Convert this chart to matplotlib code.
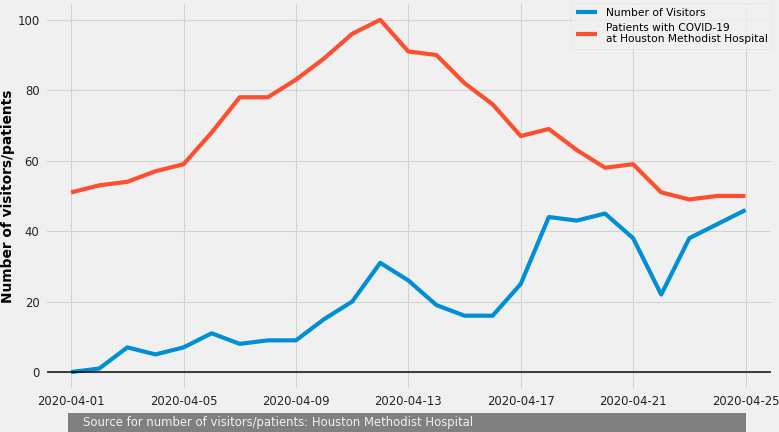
import numpy as np
import pandas as pd
import matplotlib
matplotlib.use("Agg")
import matplotlib.pyplot as plt
import matplotlib.dates as mdates
from matplotlib.patches import Rectangle

dates = pd.date_range("2020-04-01", "2020-04-25", freq="D")
visitors = [0, 1, 7, 5, 7, 11, 8, 9, 9, 15, 20, 31, 26, 19, 16, 16, 25, 44, 43, 45, 38, 22, 38, 42, 46]
patients = [51, 53, 54, 57, 59, 68, 78, 78, 83, 89, 96, 100, 91, 90, 82, 76, 67, 69, 63, 58, 59, 51, 49, 50, 50]
yticks = [0, 20, 40, 60, 80, 100]
source = "Source for number of visitors/patients: Houston Methodist Hospital"

plt.style.use("fivethirtyeight")
plt.rcParams["font.family"] = "DejaVu Sans"
fig = plt.figure(figsize=(7.79, 4.32), dpi=100)
ax = fig.add_axes([0.0578, 0.098, 0.9342, 0.897])

ax.plot(dates, visitors, color="#008fd5", linewidth=3, label="Number of Visitors")
ax.plot(dates, patients, color="#fc4f30", linewidth=3,
        label="Patients with COVID-19\nat Houston Methodist Hospital")
ax.axhline(0, color="black", linewidth=1.3, alpha=0.8)

ax.set_ylim(-5, 105)
ax.set_yticks(yticks)
x0 = mdates.date2num(dates[0])
ax.set_xlim(x0 - 0.93, x0 + 24.97)
ax.xaxis.set_major_locator(mdates.DayLocator(bymonthday=[1, 5, 9, 13, 17, 21, 25]))
ax.xaxis.set_major_formatter(mdates.DateFormatter("%Y-%m-%d"))
ax.tick_params(axis="both", labelsize=8.35, length=0, pad=4, labelcolor="#222222")
ax.grid(color="#d3d3d3", linewidth=0.8)
ax.set_ylabel("Number of visitors/patients", fontsize=9.9, fontweight="bold")
ax.yaxis.set_label_coords(-0.041, 0.5)

leg = ax.legend(loc="upper right", fontsize=7.7, borderaxespad=0.1, handlelength=2)
leg.get_frame().set_facecolor("#f0f0f0")
leg.get_frame().set_edgecolor("#e0e0e0")

fig.patches.append(Rectangle((68 / 779, 0), (746 - 68) / 779, 19 / 432,
                             transform=fig.transFigure, facecolor="grey",
                             edgecolor="none", zorder=0))
fig.text(83 / 779, 9.5 / 432, source, fontsize=8.35, color="#f0f0f0", va="center", ha="left")

fig.savefig("out.png", dpi=100, facecolor="#f0f0f0")
